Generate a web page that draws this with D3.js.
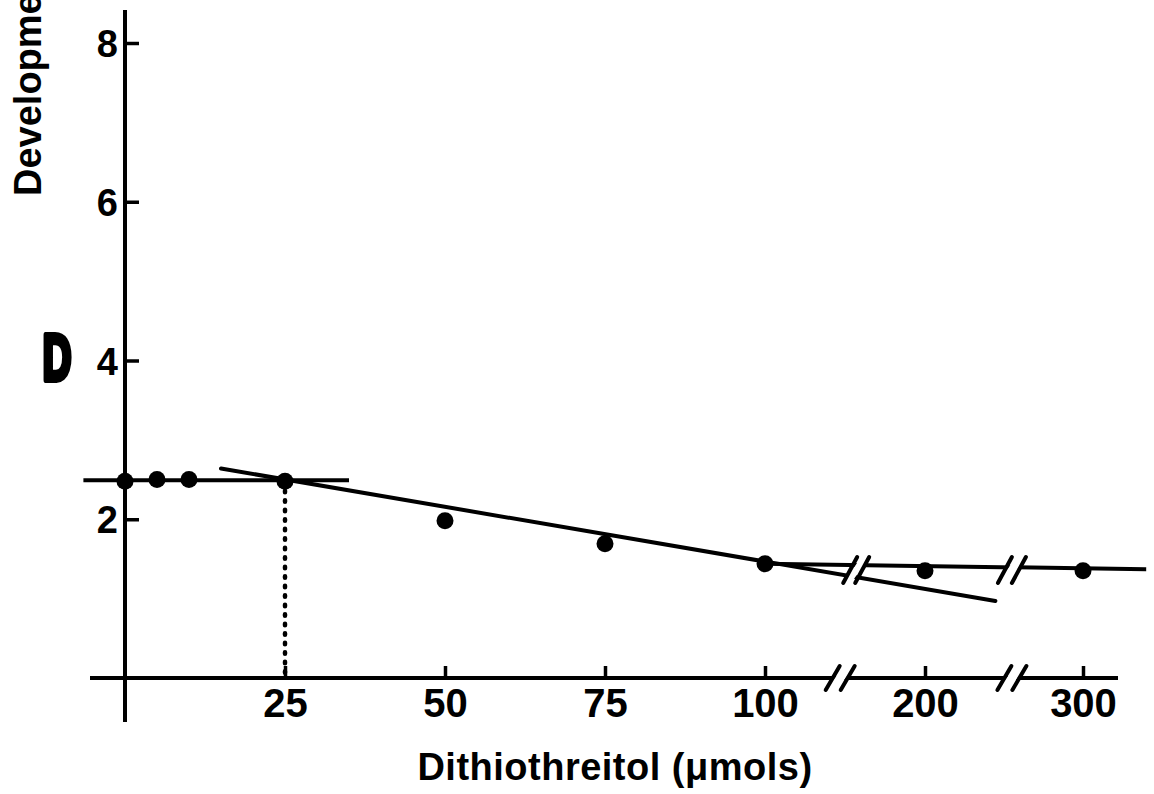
<!DOCTYPE html>
<html><head><meta charset="utf-8">
<script src="https://cdn.jsdelivr.net/npm/d3@7"></script>
<style>
html,body{margin:0;padding:0;background:#fff;}
svg{display:block;}
text{font-family:"Liberation Sans",Arial,sans-serif;font-weight:bold;fill:#000;}
</style></head>
<body>
<svg id="chart" width="1154" height="794"></svg>
<script>
// ---- data ----
const xTickValues = [25, 50, 75, 100, 200, 300];
const yTickValues = [2, 4, 6, 8];
const doseX = [0, 5, 10, 25, 50, 75, 100, 200, 300];
const developY = [2.48, 2.5, 2.5, 2.48, 1.98, 1.69, 1.44, 1.35, 1.35];
const flatLineX = [-6.5, 35];
const flatLineY = [2.49, 2.49];
const slopeLineX = [15, 136];
const slopeLineY = [2.64, 0.97];
const plateauX = [100, 340];
const plateauY = [1.44, 1.37];
const axisBreaksX = [147, 255];
const lineBreaksX = [157, 255];
const thresholdX = 25;
const thresholdY = 2.48;

const svg = d3.select("#chart");

// scales: broken x axis is a polylinear scale; the fitted slope uses the linear part extended
const x = d3.scaleLinear().domain([0, 100, 200, 300]).range([125, 765, 925, 1083]);
const xLin = d3.scaleLinear().domain([0, 100]).range([125, 765]);
const y = d3.scaleLinear().domain([0, 8]).range([678, 43]);

const line = d3.line();
const lw = 4;

// fitted lines
svg.append("path")
  .attr("d", line(flatLineX.map((v, i) => [xLin(v), y(flatLineY[i])])))
  .attr("stroke", "#000").attr("stroke-width", lw).attr("fill", "none");
svg.append("path")
  .attr("d", line(slopeLineX.map((v, i) => [xLin(v), y(slopeLineY[i])])))
  .attr("stroke", "#000").attr("stroke-width", lw).attr("fill", "none").attr("stroke-linecap", "round");
svg.append("path")
  .attr("d", line(plateauX.map((v, i) => [x(v), y(plateauY[i])])))
  .attr("stroke", "#000").attr("stroke-width", lw).attr("fill", "none");

// dotted threshold drop line
svg.append("line")
  .attr("x1", xLin(thresholdX)).attr("x2", xLin(thresholdX))
  .attr("y1", y(thresholdY)).attr("y2", y(0))
  .attr("stroke", "#000").attr("stroke-width", 4.5)
  .attr("stroke-dasharray", "1.5,8").attr("stroke-linecap", "round");

// axes
const yAxis = d3.axisLeft(y).tickValues(yTickValues).tickSize(-14).tickPadding(7).tickFormat(d3.format("d"));
const gy = svg.append("g").attr("transform", `translate(${x(0)},0)`).call(yAxis);
gy.select(".domain").remove();
gy.selectAll(".tick line").attr("stroke", "#000").attr("stroke-width", 3.5);
gy.selectAll(".tick text").style("font-size", "38px").attr("dy", "0.36em");
svg.append("line").attr("x1", x(0)).attr("x2", x(0)).attr("y1", 10).attr("y2", 722)
  .attr("stroke", "#000").attr("stroke-width", lw);

const xAxis = d3.axisBottom(x).tickValues(xTickValues).tickSize(-12).tickPadding(11).tickFormat(d3.format("d"));
const gx = svg.append("g").attr("transform", `translate(0,${y(0)})`).call(xAxis);
gx.select(".domain").remove();
gx.selectAll(".tick line").attr("stroke", "#000").attr("stroke-width", 3.5);
gx.selectAll(".tick text").style("font-size", "40px");
svg.append("line").attr("x1", 90).attr("x2", 1118).attr("y1", y(0)).attr("y2", y(0))
  .attr("stroke", "#000").attr("stroke-width", lw);

// break marks
function breakMark(cx, cy, off, dx, h) {
  svg.append("polygon")
    .attr("points", [[cx - off - dx + 2, cy + h - 3], [cx - off + dx + 2, cy - h + 3], [cx + off + dx - 2, cy - h + 3], [cx + off - dx - 2, cy + h - 3]].map(p => p.join(",")).join(" "))
    .attr("fill", "#fff");
  [-off, off].forEach(o => {
    svg.append("line")
      .attr("x1", cx + o - dx).attr("y1", cy + h)
      .attr("x2", cx + o + dx).attr("y2", cy - h)
      .attr("stroke", "#000").attr("stroke-width", 4).attr("stroke-linecap", "round");
  });
}
axisBreaksX.forEach(b => breakMark(x(b), y(0), 7.5, 7, 12));
lineBreaksX.forEach((b, i) => breakMark(x(b), 570, i === 0 ? 6 : 7, 7, 13));

// points
svg.append("g").selectAll("circle").data(doseX).join("circle")
  .attr("cx", d => x(d)).attr("cy", (d, i) => y(developY[i])).attr("r", 8.5).attr("fill", "#000");

// titles
svg.append("text").attr("x", 615).attr("y", 780).attr("text-anchor", "middle")
  .style("font-size", "38px").style("letter-spacing", "0.5px").text("Dithiothreitol (μmols)");
svg.append("text").attr("transform", "translate(41,196) rotate(-90)")
  .style("font-size", "38px").text("Development");
svg.append("text").attr("transform", "translate(57,380) scale(0.62,1)")
  .attr("text-anchor", "middle").style("font-size", "64px")
  .attr("stroke", "#000").attr("stroke-width", 6).attr("stroke-linejoin", "round").text("D");
</script>
</body></html>
